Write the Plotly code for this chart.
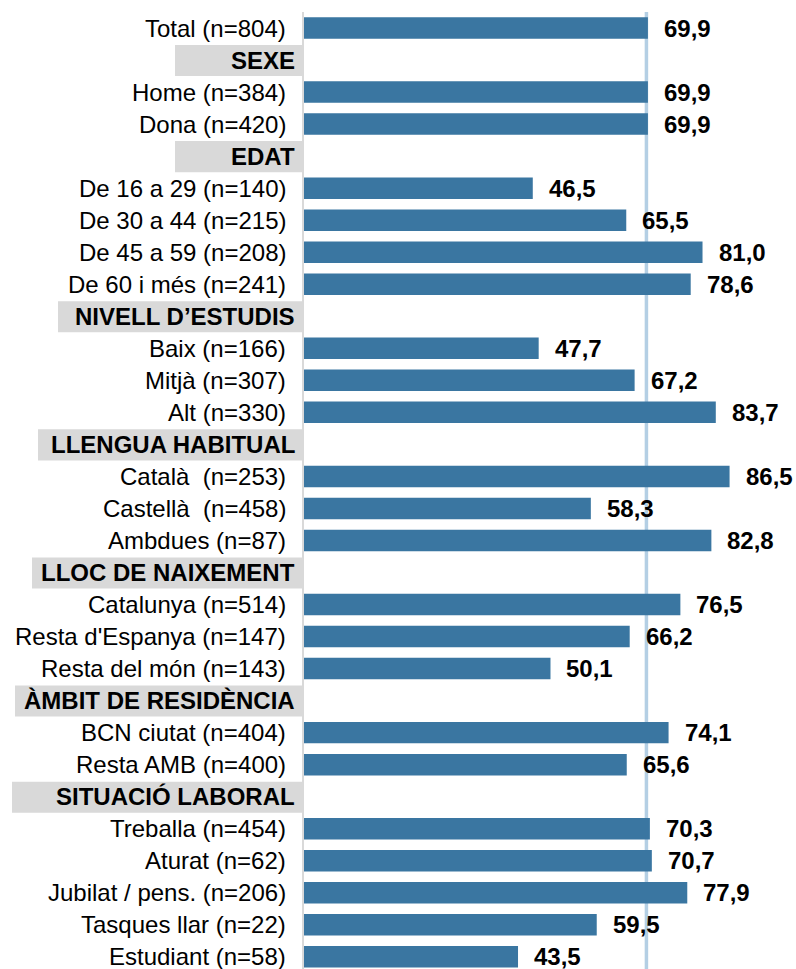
import plotly.graph_objects as go

# ---- data ----
total_label = "Total (n=804)"
total_value = 69.9

group_titles = ["SEXE", "EDAT", "NIVELL D’ESTUDIS", "LLENGUA HABITUAL",
                "LLOC DE NAIXEMENT", "ÀMBIT DE RESIDÈNCIA", "SITUACIÓ LABORAL"]

sexe_labels = ["Home (n=384)", "Dona (n=420)"]
sexe_values = [69.9, 69.9]

edat_labels = ["De 16 a 29 (n=140)", "De 30 a 44 (n=215)", "De 45 a 59 (n=208)", "De 60 i més (n=241)"]
edat_values = [46.5, 65.5, 81.0, 78.6]

estudis_labels = ["Baix (n=166)", "Mitjà (n=307)", "Alt (n=330)"]
estudis_values = [47.7, 67.2, 83.7]

llengua_labels = ["Català\u00a0 (n=253)", "Castellà\u00a0 (n=458)", "Ambdues (n=87)"]
llengua_values = [86.5, 58.3, 82.8]

naixement_labels = ["Catalunya (n=514)", "Resta d'Espanya (n=147)", "Resta del món (n=143)"]
naixement_values = [76.5, 66.2, 50.1]

residencia_labels = ["BCN ciutat (n=404)", "Resta AMB (n=400)"]
residencia_values = [74.1, 65.6]

laboral_labels = ["Treballa (n=454)", "Aturat (n=62)", "Jubilat / pens. (n=206)",
                  "Tasques llar (n=22)", "Estudiant (n=58)"]
laboral_values = [70.3, 70.7, 77.9, 59.5, 43.5]

reference_line = 69.6  # vertical reference line

# ---- styles ----
BAR_COLOR = "#3A76A1"
HEADER_BG = "#D9D9D9"
REF_COLOR = "#B4CFE4"
FONT = "Liberation Sans, Arial, sans-serif"
FS = 24
PLOT_LEFT = 304          # page x of value 0
PLOT_W = 492
header_box_left_px = [175, 175, 58, 38, 32, 15, 12]

groups = [
    (group_titles[0], sexe_labels, sexe_values),
    (group_titles[1], edat_labels, edat_values),
    (group_titles[2], estudis_labels, estudis_values),
    (group_titles[3], llengua_labels, llengua_values),
    (group_titles[4], naixement_labels, naixement_values),
    (group_titles[5], residencia_labels, residencia_values),
    (group_titles[6], laboral_labels, laboral_values),
]

rows = [("item", total_label, total_value)]
for title, labels, values in groups:
    rows.append(("header", title, None))
    for l, v in zip(labels, values):
        rows.append(("item", l, v))

bar_y = [i for i, r in enumerate(rows) if r[0] == "item"]
bar_x = [r[2] for r in rows if r[0] == "item"]

fig = go.Figure()
fig.add_trace(go.Bar(
    x=bar_x, y=bar_y, orientation="h", width=0.67,
    marker=dict(color=BAR_COLOR, line=dict(width=0)),
    hoverinfo="skip",
))

annotations = []
shapes = []
hi = 0
for i, (kind, label, val) in enumerate(rows):
    if kind == "item":
        annotations.append(dict(
            x=0, xref="paper", y=i, yref="y", text=label, showarrow=False,
            xanchor="right", yanchor="middle", xshift=-16,
            font=dict(family=FONT, size=FS, color="#000000")))
        annotations.append(dict(
            x=val, xref="x", y=i, yref="y",
            text="<b>" + f"{val:.1f}".replace(".", ",") + "</b>",
            showarrow=False, xanchor="left", yanchor="middle", xshift=14,
            font=dict(family=FONT, size=FS, color="#000000")))
    else:
        annotations.append(dict(
            x=0, xref="paper", y=i, yref="y", text="<b>" + label + "</b>",
            showarrow=False, xanchor="right", yanchor="middle", xshift=-7,
            font=dict(family=FONT, size=FS, color="#000000")))
        left = header_box_left_px[hi]
        hi += 1
        shapes.append(dict(
            type="rect", xref="paper", yref="y",
            x0=(left - PLOT_LEFT) / PLOT_W, x1=(303 - PLOT_LEFT) / PLOT_W,
            y0=i - 0.47, y1=i + 0.5,
            fillcolor=HEADER_BG, line=dict(width=0), layer="below"))

shapes.append(dict(
    type="line", xref="x", yref="paper", x0=reference_line, x1=reference_line,
    y0=0, y1=1, line=dict(color=REF_COLOR, width=3.5), layer="below"))

n = len(rows)
fig.update_layout(
    width=796, height=969,
    margin=dict(l=PLOT_LEFT, r=0, t=12, b=0, pad=0),
    paper_bgcolor="white", plot_bgcolor="rgba(0,0,0,0)",
    showlegend=False,
    xaxis=dict(range=[0, 100], showgrid=False, zeroline=False,
               showticklabels=False, ticks="", showline=False, fixedrange=True),
    yaxis=dict(range=[n - 1 + 0.38, -0.5], showgrid=False, zeroline=False,
               showticklabels=False, ticks="", showline=True,
               linecolor="#D9D9D9", linewidth=2, fixedrange=True),
    annotations=annotations,
    shapes=shapes,
)

fig.write_html(
    "out.html",
    config={"displayModeBar": False},
    post_script="document.documentElement.style.overflow='hidden';"
                "document.body.style.margin='0';"
                "document.body.style.overflow='hidden';",
)
